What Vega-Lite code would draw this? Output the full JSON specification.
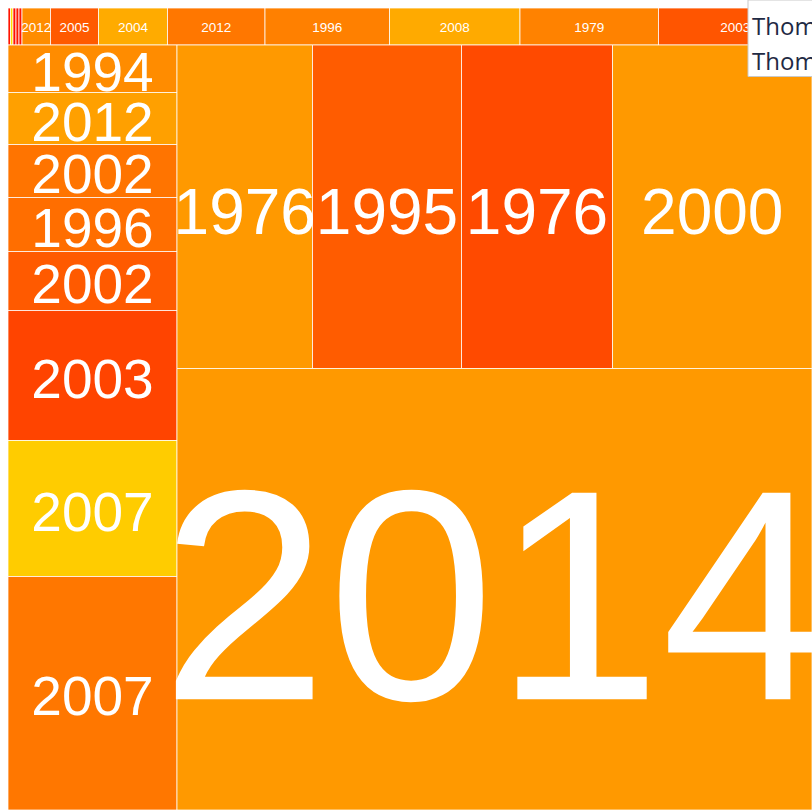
{
  "$schema": "https://vega.github.io/schema/vega-lite/v6.json",
  "width": 804,
  "height": 802,
  "padding": {"left": 8, "top": 8, "right": 0, "bottom": 0},
  "autosize": {"type": "none"},
  "background": "white",
  "config": {"view": {"stroke": null}},
  "datasets": {
    "cells": [
      {"year": "", "level": 1, "heat": 20, "x0": 0, "x1": 2.5, "y0": 0, "y1": 37},
      {"year": "", "level": 1, "heat": 221, "x0": 2.5, "x1": 5, "y0": 0, "y1": 37},
      {"year": "", "level": 1, "heat": 16, "x0": 5, "x1": 8, "y0": 0, "y1": 37},
      {"year": "", "level": 1, "heat": 26, "x0": 8, "x1": 11, "y0": 0, "y1": 37},
      {"year": "", "level": 1, "heat": 22, "x0": 11, "x1": 14, "y0": 0, "y1": 37},
      {"year": "2012", "level": 1, "heat": 140, "x0": 14, "x1": 42.5, "y0": 0, "y1": 37},
      {"year": "2005", "level": 1, "heat": 90, "x0": 42.5, "x1": 90.5, "y0": 0, "y1": 37},
      {"year": "2004", "level": 1, "heat": 171, "x0": 90.5, "x1": 159.5, "y0": 0, "y1": 37},
      {"year": "2012", "level": 1, "heat": 119, "x0": 159.5, "x1": 257, "y0": 0, "y1": 37},
      {"year": "1996", "level": 1, "heat": 128, "x0": 257, "x1": 381.5, "y0": 0, "y1": 37},
      {"year": "2008", "level": 1, "heat": 170, "x0": 381.5, "x1": 512, "y0": 0, "y1": 37},
      {"year": "1979", "level": 1, "heat": 130, "x0": 512, "x1": 650.5, "y0": 0, "y1": 37},
      {"year": "2003", "level": 1, "heat": 85, "x0": 650.5, "x1": 804, "y0": 0, "y1": 37},
      {"year": "1994", "level": 2, "heat": 140, "x0": 0, "x1": 169, "y0": 37, "y1": 84.5},
      {"year": "2012", "level": 2, "heat": 160, "x0": 0, "x1": 169, "y0": 84.5, "y1": 136.5},
      {"year": "2002", "level": 2, "heat": 116, "x0": 0, "x1": 169, "y0": 136.5, "y1": 189.5},
      {"year": "1996", "level": 2, "heat": 110, "x0": 0, "x1": 169, "y0": 189.5, "y1": 243.5},
      {"year": "2002", "level": 2, "heat": 90, "x0": 0, "x1": 169, "y0": 243.5, "y1": 302.5},
      {"year": "2003", "level": 2, "heat": 68, "x0": 0, "x1": 169, "y0": 302.5, "y1": 432.5},
      {"year": "2007", "level": 2, "heat": 204, "x0": 0, "x1": 169, "y0": 432.5, "y1": 568.5},
      {"year": "2007", "level": 2, "heat": 119, "x0": 0, "x1": 169, "y0": 568.5, "y1": 802},
      {"year": "1976", "level": 3, "heat": 153, "x0": 169, "x1": 304.5, "y0": 37, "y1": 360.5},
      {"year": "1995", "level": 3, "heat": 92, "x0": 304.5, "x1": 453.5, "y0": 37, "y1": 360.5},
      {"year": "1976", "level": 3, "heat": 74, "x0": 453.5, "x1": 604.5, "y0": 37, "y1": 360.5},
      {"year": "2000", "level": 3, "heat": 153, "x0": 604.5, "x1": 804, "y0": 37, "y1": 360.5},
      {"year": "2014", "level": 4, "heat": 153, "x0": 169, "x1": 804, "y0": 360.5, "y1": 802}
    ],
    "box": [{"x0": 740, "x1": 830, "y0": -8, "y1": 68.5}],
    "names": [
      {"name": "Thom", "tx": 744, "ty": 27},
      {"name": "Thom", "tx": 744, "ty": 62}
    ]
  },
  "layer": [
    {
      "data": {"name": "cells"},
      "mark": {"type": "rect", "stroke": "#ffffff", "strokeWidth": 1, "strokeOpacity": 0.75},
      "encoding": {
        "x": {"field": "x0", "type": "quantitative", "scale": {"domain": [0, 804], "nice": false, "zero": false}, "axis": null},
        "x2": {"field": "x1"},
        "y": {"field": "y0", "type": "quantitative", "scale": {"domain": [0, 802], "nice": false, "zero": false, "reverse": true}, "axis": null},
        "y2": {"field": "y1"},
        "color": {"field": "heat", "type": "quantitative", "scale": {"domain": [0, 255], "range": ["#ff0000", "#ffff00"], "interpolate": "rgb"}, "legend": null}
      }
    },
    {
      "data": {"name": "cells"},
      "transform": [
        {"filter": "datum.year != ''"},
        {"calculate": "(datum.x0 + datum.x1) / 2", "as": "cx"},
        {"calculate": "(datum.y0 + datum.y1) / 2 + (datum.level == 1 ? 1 : datum.level == 2 ? 5 : datum.level == 3 ? 8 : 20)", "as": "cy"}
      ],
      "mark": {"type": "text", "align": "center", "baseline": "middle", "font": "Liberation Sans, Arial, sans-serif", "fill": "#ffffff"},
      "encoding": {
        "x": {"field": "cx", "type": "quantitative"},
        "y": {"field": "cy", "type": "quantitative"},
        "text": {"field": "year"},
        "size": {"field": "level", "type": "quantitative", "scale": {"type": "linear", "domain": [1, 2, 3, 4], "range": [13.5, 55, 64, 300], "zero": false}, "legend": null}
      }
    },
    {
      "data": {"name": "box"},
      "mark": {"type": "rect", "fill": "#ffffff", "stroke": "#c9c9c9", "strokeWidth": 1},
      "encoding": {
        "x": {"field": "x0", "type": "quantitative"},
        "x2": {"field": "x1"},
        "y": {"field": "y0", "type": "quantitative"},
        "y2": {"field": "y1"}
      }
    },
    {
      "data": {"name": "names"},
      "mark": {"type": "text", "align": "left", "baseline": "alphabetic", "font": "Open Sans", "fontSize": 24, "fill": "#1f2a44"},
      "encoding": {
        "x": {"field": "tx", "type": "quantitative"},
        "y": {"field": "ty", "type": "quantitative"},
        "text": {"field": "name"}
      }
    }
  ]
}
